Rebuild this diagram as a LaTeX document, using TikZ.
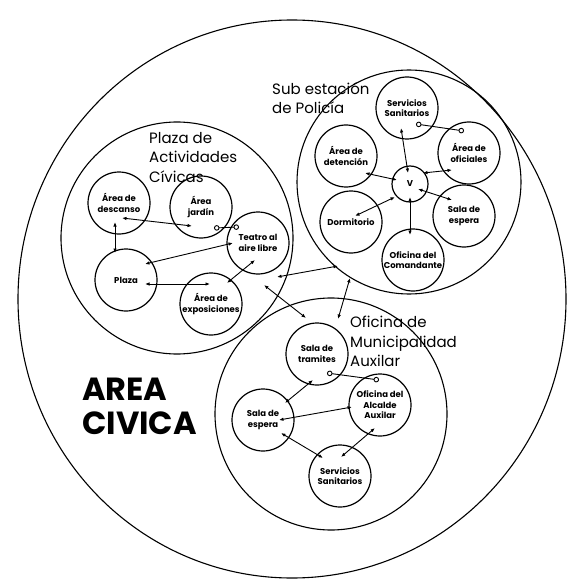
\documentclass[tikz,border=0pt]{standalone}
\usepackage{fontspec}
\setmainfont{Poppins}
\usetikzlibrary{arrows.meta}

\begin{document}
\begin{tikzpicture}[x=1pt,y=-1pt,
  zone/.style={circle,draw,line width=1.1pt,minimum size=232pt,inner sep=0pt},
  room/.style={circle,draw,line width=1.2pt,minimum size=62pt,inner sep=0pt,
    align=center,font=\fontsize{8.5}{10.5}\selectfont\bfseries},
  title/.style={anchor=north west,inner sep=0pt,align=left,
    font=\fontsize{15}{19.5}\selectfont},
  link/.style={line width=0.9pt,{Latex[length=4.5pt,width=3.5pt]}-{Latex[length=4.5pt,width=3.5pt]}},
  tie/.style={line width=0.9pt,{Circle[open,length=5.5pt,line width=0.9pt]}-{Circle[open,length=5.5pt,line width=0.9pt]}}]
\useasboundingbox (0,0) rectangle (568,580);

% area civica
\draw[line width=1.1pt] (292,299) ellipse [x radius=274, y radius=279];

% the three zones
\node[zone] (plazazone) at (177,238) {};
\node[zone,minimum size=224pt] (policezone) at (409,182) {};
\node[zone] (officezone) at (331,414) {};

% plaza de actividades civicas
\node[room] (descanso) at (119,203) {Área de\\descanso};
\node[room] (jardin) at (201,207) {Área\\jardín};
\node[room] (teatro) at (258,243) {Teatro al\\aire libre};
\node[room] (plaza) at (126,280) {Plaza};
\node[room] (expo) at (211,304) {Área de\\exposiciones};

% sub estacion de policia
\node[room] (sanpol) at (407,108) {Servicios\\Sanitarios};
\node[room] (oficiales) at (469,153) {Área de\\oficiales};
\node[room] (detencion) at (346,156) {Área de\\detención};
\node[room,minimum size=36pt] (vest) at (410,184) {V};
\node[room] (dormitorio) at (351,222) {Dormitorio};
\node[room] (esperapol) at (464,216) {Sala de\\espera};
\node[room] (comandante) at (413,260) {Oficina del\\Comandante};

% oficina de municipalidad
\node[room] (tramites) at (317,354) {Sala de\\tramites};
\node[room] (alcalde) at (380,405) {Oficina del\\Alcalde\\Auxilar};
\node[room] (esperaofi) at (263,420) {Sala de\\espera};
\node[room] (sanofi) at (340,476) {Servicios\\Sanitarios};

% titles
\node[title] (plazatitle) at (149,132) {Plaza de\\Actividades\\Cívicas};
\node[title] (policetitle) at (272,82) {Sub estación\\de Policía};
\node[title] (officetitle) at (350,316) {Oficina de\\Municipalidad\\Auxilar};
\node[anchor=north west,inner sep=0pt,align=left,
  font=\fontsize{32}{34}\selectfont\bfseries] (areatitle) at (82,378) {AREA\\CIVICA};

% links inside the plaza
\draw[link] ([shift={(3,15)}]descanso.center) -- ([shift={(-9,19)}]jardin.center);
\draw[link] ([shift={(-4,19)}]descanso.center) -- ([shift={(-11,-27)}]plaza.center);
\draw[tie] ([shift={(13,21)}]jardin.center) -- ([shift={(-19,-16)}]teatro.center);
\draw[link] ([shift={(-25,0)}]teatro.center) -- ([shift={(19,-16)}]plaza.center);
\draw[link] ([shift={(19,4)}]plaza.center) -- ([shift={(-1,-20)}]expo.center);
\draw[link] ([shift={(-3,17)}]teatro.center) -- ([shift={(16,-21)}]expo.center);

% links between zones
\draw[link] ([shift={(100,39)}]plazazone.center) -- ([shift={(-71,84)}]policezone.center);
\draw[link] ([shift={(87,47)}]plazazone.center) -- ([shift={(-25,-96)}]officezone.center);
\draw[link] ([shift={(-59,96)}]policezone.center) -- ([shift={(7,-95)}]officezone.center);

% links inside the police station
\draw[link] ([shift={(-6,20)}]sanpol.center) -- ([shift={(-2,-11)}]vest.center);
\draw[tie] ([shift={(9,16)}]sanpol.center) -- ([shift={(-5,-22)}]oficiales.center);
\draw[link] ([shift={(19,17)}]detencion.center) -- ([shift={(-13,-4)}]vest.center);
\draw[link] ([shift={(13,-11)}]vest.center) -- ([shift={(-17,17)}]oficiales.center);
\draw[link] ([shift={(-15,13)}]vest.center) -- ([shift={(4,-6)}]dormitorio.center);
\draw[link] ([shift={(8,5)}]vest.center) -- ([shift={(-12,-16)}]esperapol.center);
\draw[link] ([shift={(0,13)}]vest.center) -- ([shift={(-3,-25)}]comandante.center);

% links inside the municipal office
\draw[tie] ([shift={(10,19)}]tramites.center) -- ([shift={(-1,-25)}]alcalde.center);
\draw[link] ([shift={(-4,26)}]tramites.center) -- ([shift={(22,-17)}]esperaofi.center);
\draw[link] ([shift={(-28,2)}]alcalde.center) -- ([shift={(16,0)}]esperaofi.center);
\draw[link] ([shift={(18,13)}]esperaofi.center) -- ([shift={(-17,-18)}]sanofi.center);
\draw[link] ([shift={(-5,23)}]alcalde.center) -- ([shift={(1,-19)}]sanofi.center);
\end{tikzpicture}
\end{document}
